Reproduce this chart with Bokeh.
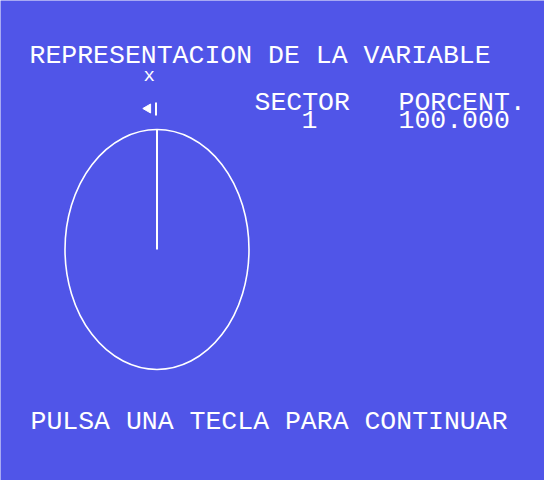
import math
from bokeh.plotting import figure
from bokeh.models import Range1d
from bokeh.core.properties import value
from bokeh.embed import file_html
from bokeh.resources import INLINE

# ---- data ----
title_text = "REPRESENTACION DE LA VARIABLE"
var_name = "x"
col_headers = ["SECTOR", "PORCENT."]
sectors = ["1"]
percents = [100.0]
footer_text = "PULSA UNA TECLA PARA CONTINUAR"

BG = "#5055E8"
FG = "white"
FONT = value("Liberation Mono")
FS = "26.5px"

W, H = 544, 480
p = figure(width=W, height=H, x_range=Range1d(0, W), y_range=Range1d(H, 0),
           output_backend="svg", toolbar_location=None, min_border=0,
           background_fill_color=BG, border_fill_color=BG, outline_line_color=None)
p.axis.visible = False
p.grid.visible = False

DY = -8

def txt(x, y, s, size=FS):
    p.text(x=[x], y=[y + DY], text=[s], text_color=FG, text_font=FONT, text_font_size=size,
           text_baseline="alphabetic", text_align="left")

txt(29, 63, title_text)
txt(143, 83, var_name, "19px")
txt(254, 110, col_headers[0])
txt(398, 110, col_headers[1])
for i, (s, pc) in enumerate(zip(sectors, percents)):
    txt(301, 127 + 16 * i, s)
    txt(398, 127 + 16 * i, "%.3f" % pc)
txt(30, 429, footer_text)

# marker next to the variable
p.scatter(x=[147.5], y=[108], marker="triangle", size=9, angle=math.pi / 2,
          fill_color=FG, line_color=FG)
p.segment(x0=[155.5], y0=[102], x1=[155.5], y1=[115], line_color=FG, line_width=2)

# pie (ellipse) and sector boundary lines
cx, cy, rx, ry = 156.5, 249, 92, 120
p.ellipse(x=[cx], y=[cy], width=[2 * rx], height=[2 * ry], fill_color=None,
          line_color=FG, line_width=1.6)
cum = 0.0
x1s, y1s = [], []
for pc in percents:
    a = math.pi / 2 - cum / 100.0 * 2 * math.pi
    x1s.append(cx + rx * math.cos(a))
    y1s.append(cy - ry * math.sin(a))
    cum += pc
p.segment(x0=[cx] * len(x1s), y0=[cy] * len(x1s), x1=x1s, y1=y1s,
          line_color=FG, line_width=2)

open("out.html", "w").write(file_html(p, INLINE))
